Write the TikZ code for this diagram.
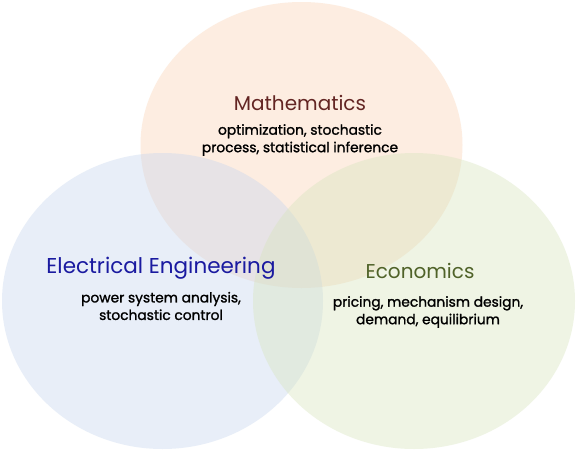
\documentclass[tikz,border=0pt]{standalone}
\usepackage{fontspec}
\setmainfont{Poppins}
\newfontfamily\subfont{Poppins}[FakeBold=1.3]
\definecolor{mathfill}{RGB}{251,212,180}
\definecolor{eefill}{RGB}{198,214,238}
\definecolor{econfill}{RGB}{215,228,189}
\definecolor{mathtxt}{RGB}{99,37,35}
\definecolor{eetxt}{RGB}{26,26,160}
\definecolor{econtxt}{RGB}{79,98,40}
\tikzset{
  setfill/.style={fill=#1, fill opacity=0.4, draw=none},
  title/.style={font=\fontsize{20}{24}\selectfont, inner sep=0pt, anchor=center},
  sub/.style={font=\subfont\fontsize{13.8}{17.5}\selectfont, align=center, inner sep=0pt, anchor=center, text=black}
}
\begin{document}
\begin{tikzpicture}[x=1pt,y=-1pt]
\useasboundingbox (0,0) rectangle (576,450);
\fill[white] (0,0) rectangle (576,450);
\fill[setfill=mathfill] (301.5,145) ellipse [x radius=161, y radius=143];
\fill[setfill=eefill] (162.5,301) ellipse [x radius=160.5, y radius=148];
\fill[setfill=econfill] (414,301) ellipse [x radius=161, y radius=148];
\node[title, text=mathtxt] (mathT) at (300,103) {Mathematics};
\node[sub] (mathS) at (300,140) {optimization, stochastic\\process, statistical inference};
\node[title, text=eetxt, font=\fontsize{21.5}{24}\selectfont] (eeT) at (161,268) {Electrical Engineering};
\node[sub] (eeS) at (161,306) {power system analysis,\\stochastic control};
\node[title, text=econtxt] (econT) at (420,271) {Economics};
\node[sub] (econS) at (428,312) {pricing, mechanism design,\\demand, equilibrium};
\end{tikzpicture}
\end{document}
